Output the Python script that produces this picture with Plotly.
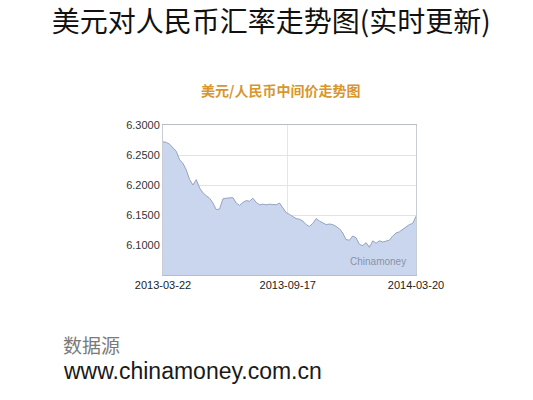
import pandas as pd
import plotly.graph_objects as go

# USD/CNY central parity
start_date = "2013-03-22"
end_date = "2014-03-20"
rate_values = [
    6.272, 6.271, 6.268, 6.261, 6.256, 6.242, 6.236, 6.225, 6.209, 6.200,
    6.209, 6.195, 6.187, 6.182, 6.178, 6.170, 6.159, 6.160, 6.177, 6.178,
    6.178, 6.179, 6.170, 6.166, 6.171, 6.174, 6.173, 6.178, 6.171, 6.167,
    6.168, 6.167, 6.168, 6.167, 6.167, 6.170, 6.162, 6.154, 6.151, 6.147,
    6.144, 6.143, 6.140, 6.134, 6.131, 6.136, 6.144, 6.140, 6.137, 6.134,
    6.135, 6.134, 6.131, 6.127, 6.120, 6.109, 6.108, 6.115, 6.112, 6.101,
    6.099, 6.104, 6.096, 6.107, 6.103, 6.107, 6.105, 6.107, 6.108, 6.115,
    6.120, 6.122, 6.126, 6.131, 6.134, 6.136, 6.148,
]
x_ticks = ["2013-03-22", "2013-09-17", "2014-03-20"]
y_ticks = [6.10, 6.15, 6.20, 6.25, 6.30]

dates = pd.date_range(start_date, end_date, periods=len(rate_values))

fig = go.Figure()
fig.add_trace(go.Scatter(
    x=dates,
    y=rate_values,
    mode="lines",
    fill="tozeroy",
    fillcolor="#c9d6ee",
    line=dict(color="#97a3bf", width=1),
    hoverinfo="x+y",
))

fig.update_layout(
    width=533,
    height=400,
    paper_bgcolor="white",
    plot_bgcolor="white",
    showlegend=False,
    margin=dict(l=163, r=117, t=125, b=125),
    title=dict(
        text="美元对人民币汇率走势图(实时更新)",
        x=0.509, xanchor="center", xref="container",
        y=0.945, yanchor="middle", yref="container",
        font=dict(family="Noto Sans CJK SC", size=28, color="#111111"),
    ),
    xaxis=dict(
        range=[start_date, end_date],
        tickvals=x_ticks,
        ticktext=x_ticks,
        showgrid=True,
        gridcolor="#e6e6e6",
        showline=True,
        linecolor="#b8bcc6",
        mirror=True,
        ticks="",
        tickfont=dict(family="Liberation Sans", size=11, color="#222222"),
    ),
    yaxis=dict(
        range=[6.05, 6.30],
        tickvals=y_ticks,
        tickformat=".4f",
        showgrid=True,
        gridcolor="#e3e3e3",
        showline=True,
        linecolor="#c8ccd4",
        mirror=True,
        ticks="",
        zeroline=False,
        tickfont=dict(family="Liberation Sans", size=11, color="#333333"),
    ),
)

fig.add_annotation(
    text="<b>美元/人民币中间价走势图</b>",
    xref="paper", yref="paper", x=0.466, y=1.233,
    xanchor="center", yanchor="middle",
    showarrow=False,
    font=dict(family="Noto Sans CJK SC", size=14, color="#d8962c"),
)
fig.add_annotation(
    text="Chinamoney",
    xref="paper", yref="paper", x=0.85, y=0.087,
    xanchor="center", yanchor="middle",
    showarrow=False,
    font=dict(family="Liberation Sans", size=10, color="#8a93a8"),
)
fig.add_annotation(
    text="数据源",
    xref="paper", yref="paper", x=-0.403, y=-0.46,
    xanchor="left", yanchor="middle",
    showarrow=False,
    font=dict(family="Noto Sans CJK SC", size=19, color="#7a7a7a"),
)
fig.add_annotation(
    text="www.chinamoney.com.cn",
    xref="paper", yref="paper", x=-0.403, y=-0.64,
    xanchor="left", yanchor="middle",
    showarrow=False,
    font=dict(family="Liberation Sans", size=23, color="#1a1a1a"),
)

# drop the browser's default body margin so the figure sits at the page corner
fig.write_html(
    "out.html",
    config={"displayModeBar": False},
    post_script="document.body.style.margin='0px';",
)
